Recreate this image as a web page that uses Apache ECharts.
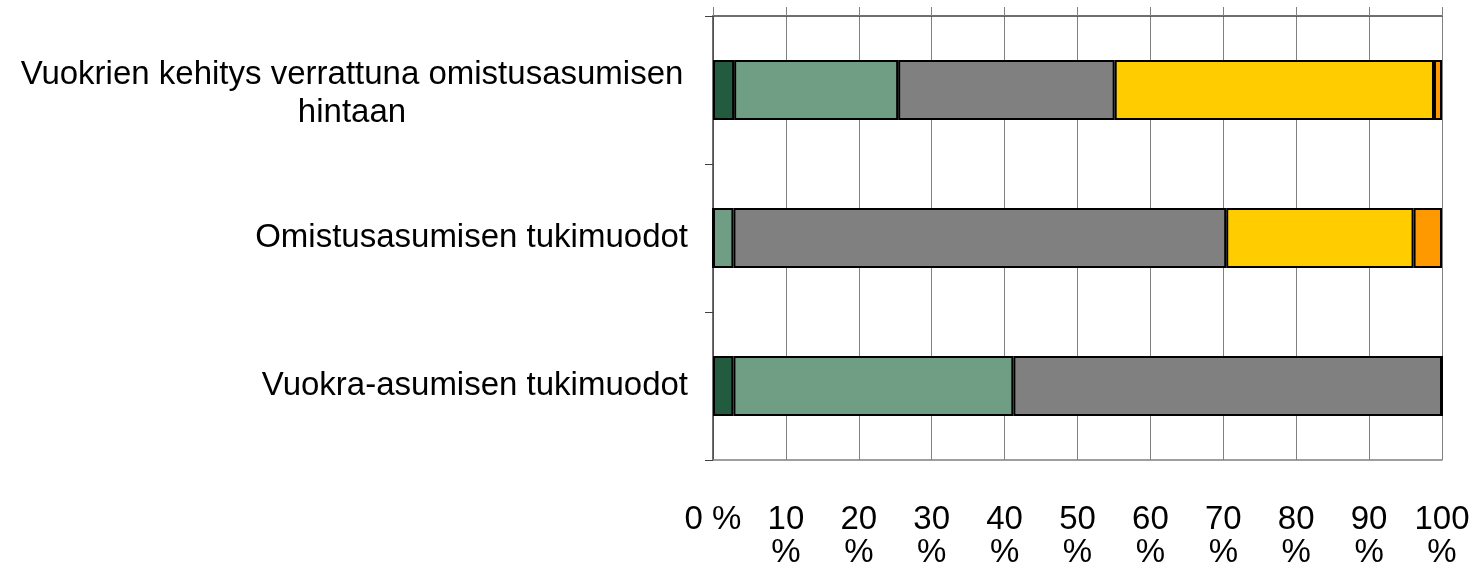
<!DOCTYPE html>
<html>
<head>
<meta charset="utf-8">
<script src="https://cdn.jsdelivr.net/npm/echarts@6/dist/echarts.min.js"></script>
<style>
  html, body { margin: 0; padding: 0; background: #fff; }
  #chart { width: 1473px; height: 565px; }
</style>
</head>
<body>
<div id="chart"></div>
<script>
// kategoriat ylhäältä alas
var categories = [
	'Vuokrien kehitys verrattuna omistusasumisen\nhintaan',
	'Omistusasumisen tukimuodot',
	'Vuokra-asumisen tukimuodot'
];
// osuudet prosentteina, yksi taulukko per sarja
var sarja1 = [2.9, 0, 2.8];
var sarja2 = [22.5, 2.8, 38.4];
var sarja3 = [29.7, 67.6, 58.8];
var sarja4 = [43.8, 25.7, 0];
var sarja5 = [1.1, 3.9, 0];
var seriesNames = ['1', '2', '3', '4', '5'];
var seriesColors = ['#225B3F', '#6F9E85', '#808080', '#FFCC00', '#FF9900'];

var fontFamily = "'Liberation Sans', Arial, sans-serif";
var chartDom = document.getElementById('chart');
var myChart = echarts.init(chartDom);

var allData = [sarja1, sarja2, sarja3, sarja4, sarja5];
var series = allData.map(function(d, i) {
	return {
		name : seriesNames[i],
		type : 'bar',
		stack : 'total',
		barWidth : 60,
		data : d,
		itemStyle : {
			color : seriesColors[i],
			borderColor : '#000',
			borderWidth : 2
		},
		emphasis : { disabled : true }
	};
});

var option = {
	animation : false,
	backgroundColor : '#fff',
	textStyle : { fontFamily : fontFamily },
	grid : {
		left : 713,
		right : 31,
		top : 16,
		bottom : 105,
		outerBoundsMode : 'none'
	},
	xAxis : [ {
		type : 'value',
		min : 0,
		max : 100,
		interval : 10,
		position : 'bottom',
		axisLine : { show : true, lineStyle : { color : '#808080', width : 1.5 } },
		axisTick : { show : false },
		splitLine : { show : true, lineStyle : { color : '#808080', width : 1 } },
		axisLabel : {
			margin : 43,
			color : '#000',
			fontSize : 33,
			fontFamily : fontFamily,
			lineHeight : 33,
			formatter : function(v) {
				return v === 0 ? '0 %' : v + '\n%';
			}
		}
	}, {
		// yläreuna ja pienet tikit sen yläpuolella
		type : 'value',
		min : 0,
		max : 100,
		interval : 10,
		position : 'top',
		axisLine : { show : true, lineStyle : { color : '#404040', width : 1.5 } },
		axisTick : { show : true, length : 9, lineStyle : { color : '#808080' } },
		splitLine : { show : false },
		axisLabel : { show : false }
	} ],
	yAxis : {
		type : 'category',
		inverse : true,
		data : categories,
		axisLine : { show : true, lineStyle : { color : '#404040', width : 1.5 } },
		axisTick : { show : true, length : 8, lineStyle : { color : '#404040' } },
		axisLabel : {
			margin : 25,
			color : '#000',
			fontSize : 33,
			fontFamily : fontFamily,
			formatter : function(v) {
				if (v.indexOf('\n') >= 0) {
					return v.split('\n').map(function(s) {
						return '{c|' + s + '}';
					}).join('\n');
				}
				return v;
			},
			rich : {
				c : {
					width : 672,
					align : 'center',
					fontSize : 33,
					lineHeight : 38,
					padding : [ 8, 0, 0, 0 ],
					fontFamily : fontFamily,
					color : '#000'
				}
			}
		}
	},
	series : series
};

myChart.setOption(option);
</script>
</body>
</html>
